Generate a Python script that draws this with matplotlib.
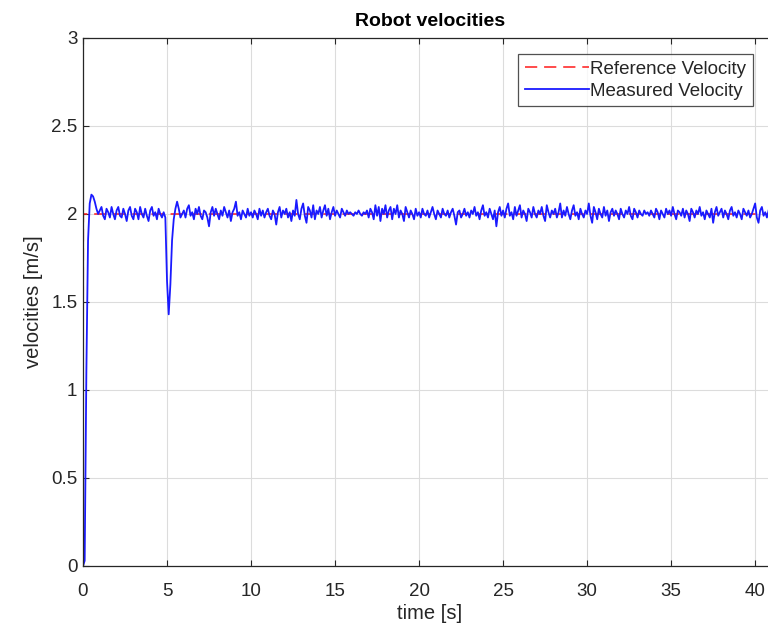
import numpy as np
import matplotlib.pyplot as plt

plt.rcParams['font.family'] = ['Liberation Sans', 'DejaVu Sans']

# Referans hız (m/s)
ref_time = [0.0, 0.02, 41.3]
ref_velocity = [0.0, 2.0, 2.0]

# Ölçülen hız, 0.1 s aralıklarla (m/s)
time_step = 0.1
measured_velocity = [
    0.00, 0.03, 1.10, 1.85, 2.06, 2.11, 2.10, 2.07, 2.03, 2.00,
    2.02, 2.04, 1.99, 1.97, 2.03, 2.01, 1.98, 2.04, 2.00, 1.97,
    2.02, 2.04, 1.99, 1.98, 2.03, 2.00, 1.96, 2.02, 2.04, 1.99,
    1.97, 2.03, 2.01, 1.97, 2.04, 2.00, 1.98, 2.03, 1.99, 1.96,
    2.02, 2.04, 1.99, 2.01, 1.97, 2.03, 2.00, 1.98, 2.01, 1.98,
    1.62, 1.43, 1.60, 1.85, 1.97, 2.03, 2.07, 2.03, 1.98, 2.00,
    2.02, 1.98, 2.03, 2.05, 1.99, 2.01, 1.97, 2.03, 2.00, 2.04,
    1.99, 1.97, 2.02, 2.01, 1.98, 1.93, 2.01, 2.04, 1.99, 2.03,
    2.00, 1.97, 2.02, 1.99, 2.04, 2.01, 1.98, 2.02, 1.96, 2.01,
    2.03, 2.07, 1.99, 2.01, 1.97, 2.02, 2.00, 1.98, 2.03, 1.99,
    2.01, 1.98, 2.02, 2.00, 1.97, 2.03, 1.99, 2.02, 1.98, 2.01,
    2.03, 1.99, 1.97, 2.02, 2.00, 1.94, 2.01, 2.04, 1.98, 2.02,
    2.00, 2.03, 1.98, 2.01, 1.96, 2.02, 1.99, 2.08, 2.00, 1.97,
    2.03, 2.06, 1.99, 1.95, 2.04, 2.02, 1.98, 2.05, 1.97, 2.02,
    2.00, 2.04, 1.98, 2.02, 2.05, 1.99, 2.03, 1.97, 2.01, 2.04,
    1.99, 2.02, 2.00, 1.98, 2.03, 2.01, 1.99, 2.02, 2.00, 2.01,
    2.00, 1.99, 2.01, 2.00, 2.02, 2.00, 1.99, 2.01, 2.00, 2.02,
    1.98, 2.03, 2.01, 1.97, 2.05, 1.99, 2.04, 1.96, 2.03, 2.00,
    2.05, 1.98, 2.02, 2.04, 1.97, 2.03, 2.00, 2.05, 1.98, 2.02,
    2.00, 1.96, 2.04, 2.01, 1.98, 2.02, 2.00, 1.97, 2.03, 1.99,
    2.01, 1.98, 2.03, 2.00, 1.99, 2.02, 1.98, 2.01, 2.04, 2.00,
    1.97, 2.02, 2.00, 1.98, 2.03, 2.00, 1.99, 2.02, 1.98, 2.01,
    2.03, 1.99, 1.94, 2.01, 2.02, 1.98, 2.00, 2.03, 1.99, 2.01,
    1.98, 2.02, 2.00, 2.04, 1.99, 2.01, 1.97, 2.02, 2.05, 1.99,
    2.01, 1.98, 2.03, 2.00, 1.97, 2.02, 1.93, 2.01, 2.04, 1.99,
    2.02, 1.98, 2.03, 2.06, 1.99, 2.01, 1.97, 2.04, 1.99, 2.02,
    2.05, 1.98, 2.02, 2.00, 1.96, 2.03, 2.01, 1.98, 2.04, 2.00,
    1.98, 2.02, 2.00, 2.04, 1.99, 1.96, 2.05, 2.01, 1.98, 2.02,
    2.00, 2.03, 1.98, 2.01, 2.06, 1.98, 2.02, 1.99, 2.04, 2.00,
    1.97, 2.02, 2.05, 1.99, 2.01, 1.97, 2.03, 2.00, 1.98, 2.02,
    2.00, 2.06, 1.99, 1.95, 2.04, 2.01, 1.97, 2.03, 2.00, 1.98,
    2.04, 1.99, 2.02, 1.96, 2.01, 2.03, 1.99, 2.02, 2.00, 1.97,
    2.03, 2.00, 1.98, 2.02, 2.00, 2.04, 1.99, 1.97, 2.03, 2.01,
    1.98, 2.02, 2.00, 1.99, 2.02, 2.00, 2.01, 1.99, 2.02, 2.00,
    1.98, 2.03, 2.01, 1.97, 2.02, 2.00, 1.98, 2.03, 2.00, 2.02,
    1.99, 2.04, 2.00, 1.97, 2.02, 2.01, 1.99, 2.03, 1.98, 2.02,
    2.00, 1.96, 2.03, 2.01, 1.98, 2.02, 2.00, 2.04, 1.99, 2.01,
    1.97, 2.02, 2.00, 1.98, 2.03, 1.95, 2.01, 2.04, 1.99, 2.01,
    2.03, 1.98, 2.02, 2.00, 1.97, 2.02, 2.04, 1.99, 2.01, 1.98,
    2.02, 2.00, 1.97, 2.03, 2.01, 1.99, 2.02, 1.98, 2.00, 2.03,
    2.06, 1.98, 1.95, 2.02, 2.04, 1.99, 2.01, 1.98, 2.02,
]
measured_time = np.arange(len(measured_velocity)) * time_step

x_ticks = [0, 5, 10, 15, 20, 25, 30, 35, 40]
y_ticks = [0, 0.5, 1, 1.5, 2, 2.5, 3]
y_tick_labels = ['0', '0.5', '1', '1.5', '2', '2.5', '3']

dark = '#262626'

fig = plt.figure(figsize=(7.68, 6.35), dpi=100)
# eksen sağda kırpılmış gibi: genişlik figürün dışına taşıyor
ax = fig.add_axes([83 / 768, 1 - 566 / 635, 694 / 768, 528 / 635])

ax.plot(ref_time, ref_velocity, color='#ff1a1a', linestyle=(0, (8, 4.5)), linewidth=1.1,
        label='Reference Velocity')
ax.plot(measured_time, measured_velocity, color='#1a1aff', linewidth=1.3,
        label='Measured Velocity')

ax.set_xlim(0, 41.3)
ax.set_ylim(0, 3)
ax.set_xticks(x_ticks)
ax.set_yticks(y_ticks)
ax.set_yticklabels(y_tick_labels)
ax.grid(True, color='#dcdcdc', linewidth=0.8)
ax.set_axisbelow(True)
ax.tick_params(direction='in', top=True, right=True, length=4, width=0.8,
               colors=dark, labelsize=13.5)
ax.tick_params(axis='x', pad=12)
ax.tick_params(axis='y', pad=4)
for s in ax.spines.values():
    s.set_color(dark)
    s.set_linewidth(0.9)

ax.set_xlabel('time [s]', fontsize=14.5, color=dark, labelpad=3)
ax.set_ylabel('velocities [m/s]', fontsize=14.5, color=dark, labelpad=6)
ax.set_title('Robot velocities', fontsize=14, fontweight='bold', color='black', pad=9)

leg = ax.legend(loc='upper right', bbox_to_anchor=((753 - 83) / 694, (566 - 54) / 528),
                fontsize=13.5, frameon=True, fancybox=False, handlelength=3.4,
                handletextpad=0.1, borderpad=0.35, labelspacing=0.25, borderaxespad=0)
leg.get_frame().set_edgecolor(dark)
leg.get_frame().set_linewidth(0.9)
for t in leg.get_texts():
    t.set_color(dark)

fig.savefig('out.png', dpi=100)
